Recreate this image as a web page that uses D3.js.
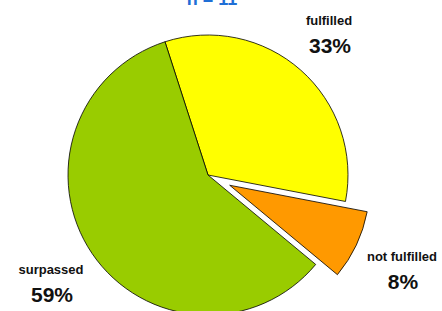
<!DOCTYPE html>
<html>
<head>
<meta charset="utf-8">
<script src="https://cdn.jsdelivr.net/npm/d3@7"></script>
<style>
  body { margin: 0; background: #fff; }
  text { font-family: "Liberation Sans", Arial, sans-serif; font-weight: bold; }
</style>
</head>
<body>
<div id="chart"></div>
<script>
var width = 442; var height = 311;

// data
var title = "n = 11";
var categories = ["fulfilled", "not fulfilled", "surpassed"];
var shares = [33, 8, 59];
var colors = ["#FFFF00", "#FF9900", "#99CC00"];

// layout (kept apart from the data)
var cx = 208, cy = 175, radius = 140;
var explode = { "not fulfilled": 24 };
var labelPos = {
	"fulfilled":     [329, 25],
	"not fulfilled": [402, 261],
	"surpassed":     [51, 274]
};

var svg = d3.select("#chart").append("svg")
	.attr("width", width)
	.attr("height", height);

svg.append("text")
	.attr("x", 212).attr("y", 5)
	.attr("text-anchor", "middle")
	.attr("fill", "#1F6FD6")
	.style("font-size", "18px")
	.text(title);

var pie = d3.pie().sort(null)
	.startAngle(-17.9 * Math.PI / 180)
	.endAngle(2 * Math.PI - 17.9 * Math.PI / 180);

var arc = d3.arc().innerRadius(0).outerRadius(radius);

var g = svg.append("g").attr("transform", "translate(" + cx + "," + cy + ")");

var slices = pie(shares).map(function(d, i) { d.name = categories[i]; d.color = colors[i]; return d; });

g.selectAll(".slice")
	.data(slices)
	.enter()
	.append("path")
	.attr("class", "slice")
	.attr("d", arc)
	.attr("fill", function(d) { return d.color; })
	.attr("stroke", "#000")
	.attr("stroke-width", 0.8)
	.attr("stroke-linejoin", "miter")
	.attr("transform", function(d) {
		var off = explode[d.name] || 0;
		var a = (d.startAngle + d.endAngle) / 2;
		return "translate(" + (Math.sin(a) * off) + "," + (-Math.cos(a) * off) + ")";
	});

// labels: name and percentage
slices.forEach(function(d) {
	var p = labelPos[d.name];
	svg.append("text")
		.attr("x", p[0]).attr("y", p[1])
		.attr("text-anchor", "middle")
		.attr("fill", "#111")
		.style("font-size", "13px")
		.text(d.name);
	svg.append("text")
		.attr("x", p[0] + 1).attr("y", p[1] + 28)
		.attr("text-anchor", "middle")
		.attr("fill", "#111")
		.style("font-size", "21px")
		.text(d.data + "%");
});
</script>
</body>
</html>
